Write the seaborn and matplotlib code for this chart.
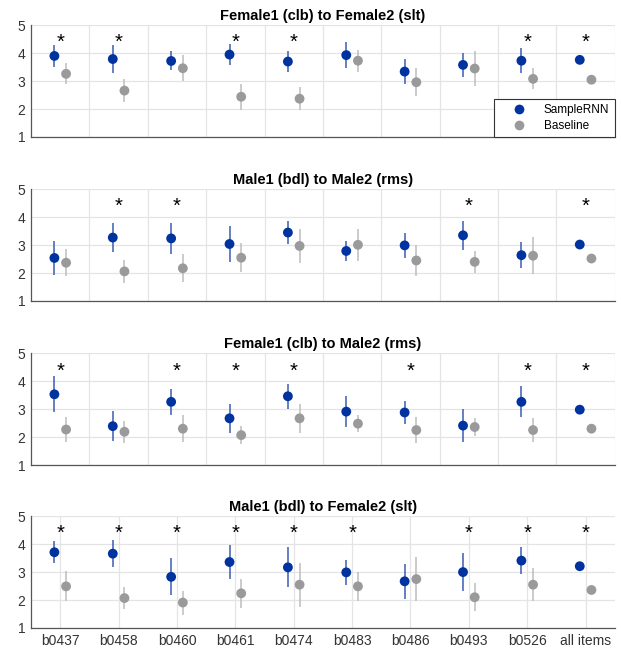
import numpy as np
import seaborn as sns
import matplotlib.pyplot as plt
from matplotlib.lines import Line2D

# items on the x axis
items = ["b0437", "b0458", "b0460", "b0461", "b0474",
         "b0483", "b0486", "b0493", "b0526", "all items"]

titles = ["Female1 (clb) to Female2 (slt)",
          "Male1 (bdl) to Male2 (rms)",
          "Female1 (clb) to Male2 (rms)",
          "Male1 (bdl) to Female2 (slt)"]

# Female1 -> Female2
ff_rnn = [3.90, 3.79, 3.72, 3.95, 3.70, 3.93, 3.34, 3.58, 3.73, 3.76]
ff_rnn_ci = [0.39, 0.50, 0.34, 0.36, 0.37, 0.46, 0.46, 0.43, 0.45, 0.0]
ff_base = [3.26, 2.66, 3.46, 2.44, 2.37, 3.73, 2.96, 3.45, 3.08, 3.05]
ff_base_ci = [0.37, 0.42, 0.46, 0.46, 0.42, 0.39, 0.51, 0.62, 0.38, 0.0]
ff_star = ["b0437", "b0458", "b0461", "b0474", "b0526", "all items"]

# Male1 -> Male2
mm_rnn = [2.54, 3.27, 3.24, 3.04, 3.45, 2.79, 2.99, 3.35, 2.64, 3.02]
mm_rnn_ci = [0.62, 0.53, 0.56, 0.66, 0.42, 0.37, 0.45, 0.51, 0.46, 0.0]
mm_base = [2.37, 2.06, 2.17, 2.55, 2.97, 3.01, 2.45, 2.40, 2.62, 2.52]
mm_base_ci = [0.49, 0.42, 0.50, 0.53, 0.62, 0.58, 0.57, 0.39, 0.67, 0.0]
mm_star = ["b0458", "b0460", "b0493", "all items"]

# Female1 -> Male2
fm_rnn = [3.53, 2.39, 3.26, 2.67, 3.46, 2.91, 2.88, 2.41, 3.26, 2.98]
fm_rnn_ci = [0.64, 0.54, 0.46, 0.53, 0.44, 0.55, 0.41, 0.60, 0.56, 0.0]
fm_base = [2.27, 2.19, 2.30, 2.07, 2.67, 2.48, 2.25, 2.36, 2.25, 2.30]
fm_base_ci = [0.46, 0.39, 0.48, 0.31, 0.51, 0.31, 0.47, 0.31, 0.43, 0.0]
fm_star = ["b0437", "b0460", "b0461", "b0474", "b0486", "b0526", "all items"]

# Male1 -> Female2
mf_rnn = [3.71, 3.66, 2.83, 3.36, 3.17, 2.99, 2.67, 3.00, 3.41, 3.21]
mf_rnn_ci = [0.40, 0.48, 0.66, 0.61, 0.71, 0.46, 0.63, 0.68, 0.48, 0.0]
mf_base = [2.49, 2.07, 1.91, 2.24, 2.55, 2.49, 2.75, 2.10, 2.55, 2.36]
mf_base_ci = [0.54, 0.39, 0.43, 0.51, 0.79, 0.53, 0.78, 0.51, 0.60, 0.0]
mf_star = ["b0437", "b0458", "b0460", "b0461", "b0474", "b0483",
           "b0493", "b0526", "all items"]

panels = [(ff_rnn, ff_rnn_ci, ff_base, ff_base_ci, ff_star),
          (mm_rnn, mm_rnn_ci, mm_base, mm_base_ci, mm_star),
          (fm_rnn, fm_rnn_ci, fm_base, fm_base_ci, fm_star),
          (mf_rnn, mf_rnn_ci, mf_base, mf_base_ci, mf_star)]

blue = "#0033a0"
blue_err = "#3a5cb0"
grey = "#9a9a9c"
grey_err = "#bdbdbd"

sns.set_style("white")
plt.rcParams['font.family'] = ['Liberation Sans', 'DejaVu Sans']

fig = plt.figure(figsize=(6.21, 6.48), dpi=100)
bottoms = [0.7886, 0.5355, 0.2824, 0.0309]
x = np.arange(1, len(items) + 1)

for i, (rnn, rnn_ci, base, base_ci, star) in enumerate(panels):
    ax = fig.add_axes([0.050, bottoms[i], 0.940, 0.1725])
    rnn = np.array(rnn)
    base = np.array(base)
    rnn_ci = np.array(rnn_ci)
    base_ci = np.array(base_ci)

    # error bars first, dots on top
    ax.vlines(x - 0.1, rnn - rnn_ci, rnn + rnn_ci, color=blue_err, lw=1.1, zorder=2)
    ax.vlines(x + 0.1, base - base_ci, base + base_ci, color=grey_err, lw=1.1, zorder=2)
    sns.scatterplot(x=x - 0.1, y=rnn, color=blue, s=50, edgecolor="none",
                    ax=ax, zorder=3, legend=False)
    sns.scatterplot(x=x + 0.1, y=base, color=grey, s=50, edgecolor="none",
                    ax=ax, zorder=3, legend=False)

    for it in star:
        ax.text(items.index(it) + 1, 4.37, "*", ha="center", va="center",
                fontsize=14.5, color="black")

    ax.set_xlim(0.5, 10.5)
    ax.set_ylim(1, 5)
    ax.set_yticks([1, 2, 3, 4, 5])
    if i < 3:
        ax.set_xticks(np.arange(1.5, 10.6, 1))
        ax.set_xticklabels([])
    else:
        ax.set_xticks(x)
        ax.set_xticklabels(items)
    ax.grid(True, color="#e4e4e4", lw=0.9)
    ax.set_axisbelow(True)
    ax.tick_params(direction="in", length=3, width=0.8, color="#555555",
                   labelsize=10, labelcolor="#333333", pad=4)
    for side in ["top", "right"]:
        ax.spines[side].set_visible(False)
    for side in ["left", "bottom"]:
        ax.spines[side].set_color("#555555")
        ax.spines[side].set_linewidth(0.9)
    ax.set_title(titles[i], fontsize=10.5, fontweight="bold", pad=3.5, color="black")

    if i == 0:
        handles = [Line2D([], [], ls="none", marker="o", ms=7, color=blue, mec="none"),
                   Line2D([], [], ls="none", marker="o", ms=7, color=grey, mec="none")]
        leg = ax.legend(handles, ["SampleRNN", "Baseline"], loc="lower right",
                        fontsize=8.5, frameon=True, fancybox=False, framealpha=1,
                        borderaxespad=0, handlelength=3.3, handletextpad=0.45,
                        labelspacing=0.3, borderpad=0.45)
        leg.get_frame().set_edgecolor("#333333")
        leg.get_frame().set_linewidth(0.8)
        for t in leg.get_texts():
            t.set_color("black")

plt.savefig("out.png", dpi=100)
